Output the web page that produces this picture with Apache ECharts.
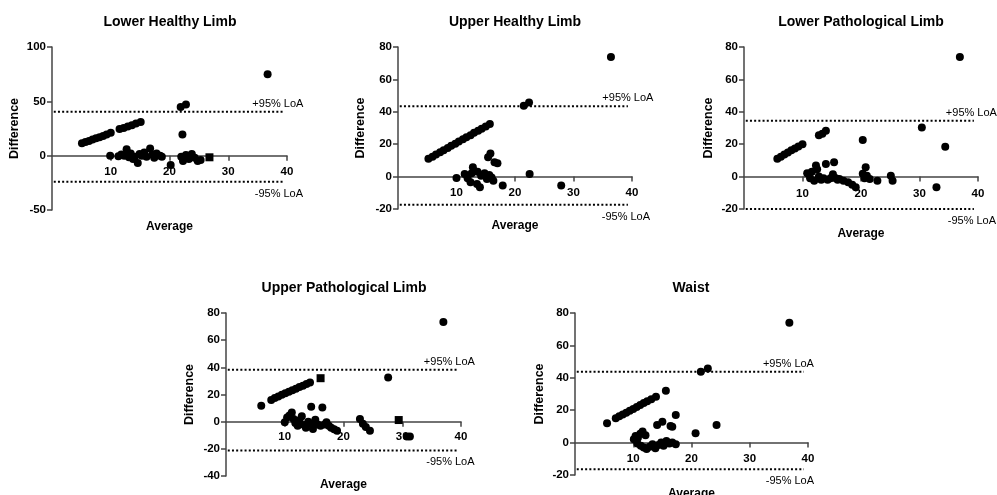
<!DOCTYPE html>
<html><head><meta charset="utf-8">
<script src="https://cdn.jsdelivr.net/npm/echarts/dist/echarts.min.js"></script>
<style>html,body{margin:0;padding:0;background:#fff}#c{width:997px;height:495px}</style>
</head><body><div id="c"></div>
<script>
// ---------- data ----------
const panelTitles = ['Lower Healthy Limb', 'Upper Healthy Limb', 'Lower Pathological Limb', 'Upper Pathological Limb', 'Waist'];
const xRange = [0, 40, 10];
const yRanges = [[-50, 100, 50], [-20, 80, 20], [-20, 80, 20], [-40, 80, 20], [-20, 80, 20]];
const loaUpper = [40.5, 43.5, 34.5, 38.3, 43.7];
const loaLower = [-24, -17.4, -20, -21.2, -16.4];
const loaUpperText = '+95% LoA';
const loaLowerText = '-95% LoA';

const lowerHealthy = [
  [5.1,11.4],[5.7,12.5],[6.3,13.6],[6.9,14.8],[7.5,16],[8.1,17],[8.7,18.2],[9.3,19.5],[10,21],
  [11.5,24.5],[12.2,25.5],[12.9,26.8],[13.6,28],[14.3,29.5],[15.1,31],
  [9.9,0],[11.3,-0.5],[11.8,1],[12.3,0],[12.7,6],[13.1,-1.5],[13.4,2],[13.8,-3],[14.1,-1],[14.6,-6.7],[14.9,1.5],
  [15.3,0],[15.7,3],[16.1,-1],[16.7,6.6],[17.1,1],[17.4,-2],[17.8,2],[18.4,0],[18.7,-1],
  [20.2,-8.6],[22.2,19.4],[21.9,44.8],[22.8,47],
  [22,-1],[22.3,-5],[22.8,0.5],[23.3,-3],[23.8,1.5],[24.3,-2],[24.8,-5],[25.3,-4],
  [36.7,75]
];
const lowerHealthySquares = [[26.8,-1.5]];

const upperHealthy = [
  [5.2,11],[5.9,12.3],[6.5,13.6],[7.2,15],[7.8,16.3],[8.5,17.6],[9.1,19],[9.8,20.3],[10.4,21.6],
  [11.1,23],[11.7,24.3],[12.4,25.6],[13,27],[13.7,28.3],[14.3,29.6],[15,31],[15.7,32.4],
  [10,-0.8],[11.4,1.6],[11.9,-1],[12.4,-3.5],[12.8,5.7],[12.6,2],[13.5,-4.5],[13.6,3],[14,-6.6],[14.2,0.5],
  [14.8,2],[15.2,-1.5],[15.4,11.9],[15.8,14.3],[15.6,1],[16,-0.5],[16.5,8.8],[16.3,-2.5],[17,8.2],
  [17.9,-5.5],[22.5,1.6],[27.9,-5.5],[21.5,43.7],[22.4,45.7],[36.4,73.8]
];
const upperHealthySquares = [];

const lowerPath = [
  [5.7,11],[6.3,12.3],[6.9,13.6],[7.5,14.9],[8.1,16.2],[8.7,17.4],[9.3,18.6],[10,20],
  [12.8,25.5],[13.4,26.5],[14,28.3],
  [10.8,2],[11.1,1.6],[11.3,-1],[11.6,3],[12,-2.5],[12.3,6.8],[12.5,4.5],[12.8,0],[13.2,-2],[13.6,-1],
  [14,7.8],[14.3,-2],[14.8,-1],[15.2,1.5],[15.4,8.8],[15.7,-1],[16,-2],[16.3,-1.5],[17,-2.5],[17.8,-3.5],
  [18.5,-5],[19.1,-6.5],[20.3,22.6],[20.8,5.7],[20.3,1.8],[20.6,-1],[21,0.5],[21.5,-1.5],[22.8,-2.5],
  [25.1,0.6],[25.4,-2.5],[30.4,30.3],[32.9,-6.6],[34.4,18.5],[36.9,73.8]
];
const lowerPathSquares = [];

const upperPath = [
  [6,11.7],[7.7,16],[8.3,17.5],[8.9,18.5],[9.5,19.8],[10.1,21],[10.7,22],[11.3,23.2],[11.9,24.3],
  [12.5,25.5],[13.1,26.5],[13.7,27.7],[14.3,28.8],
  [10,-0.5],[10.4,3],[10.8,4.5],[11.2,6.8],[11.5,2],[11.8,-1],[12.2,-3],[12.5,1],[12.9,4],[13.3,-2.5],
  [13.6,-4.5],[14,0],[14.5,11],[14.4,-1.5],[14.8,-5.4],[15.2,1.5],[15.6,-2],[16.1,-3],[16.4,10.5],[16.8,-2],
  [17.1,-0.5],[17.5,-3],[17.9,-4.5],[18.4,-5.5],[18.9,-6.6],[22.8,2],[23.3,-1.5],[23.8,-4],[24.5,-6.6],
  [27.6,32.5],[31.3,-11],[30.8,-11],[37,73.3]
];
const upperPathSquares = [[16.1,32],[29.4,1.2]];

const waist = [
  [5.5,11.9],[7,15],[7.6,16.2],[8.2,17.3],[8.8,18.5],[9.4,19.7],[10,20.8],[10.6,22],[11.2,23.2],
  [11.8,24.4],[12.4,25.5],[13.1,26.7],[13.9,28.3],[15.6,32],
  [10.1,2],[10.4,4],[10.8,3],[11.2,5.5],[11.6,6.8],[12.1,4.5],[10.7,-0.5],[11.3,-2],[11.8,-3],[12.3,-4],
  [12.8,-2.5],[13.3,-1],[13.8,-3.5],[14.3,-1.5],[14.8,0],[15.2,-2],[15.7,1],[16.2,-0.5],[16.7,0],[17.3,-1],
  [14.1,10.9],[15,12.9],[16.4,10.3],[16.7,9.8],[17.3,17],[20.7,5.8],[24.3,10.9],[21.6,43.7],[22.8,45.8],
  [36.8,74]
];
const waistSquares = [];

// ---------- layout ----------
const panels = [lowerHealthy, upperHealthy, lowerPath, upperPath, waist];
const panelSquares = [lowerHealthySquares, upperHealthySquares, lowerPathSquares, upperPathSquares, waistSquares];
const grids = [
  {left: 52, top: 47, width: 235, height: 163},
  {left: 398, top: 47, width: 234, height: 162},
  {left: 744, top: 47, width: 234, height: 162},
  {left: 226, top: 313, width: 235, height: 163},
  {left: 575, top: 313, width: 233, height: 162}
];
const titlePos = [[170, 22], [515, 22], [861, 22], [344, 288], [691, 288]];
const xLabelMargin = [-44, -22.5, -21.5, -45, -22];
const xNameGap = [11, 11, 18.5, 3, 13];
const yNameGap = [31, 31, 28.5, 30, 29];
const upLabelDx = [-5, 0, -2.5, -7.5, -15.5];
const loLabelDx = [-4, -2, -2, -6.5, -14];
const loaStart = 0.3, loaEnd = 39.3;

const FONT = '"Liberation Sans", Arial, sans-serif';
const axisColor = '#444';

const xAxes = [], yAxes = [], series = [], graphics = [];
panels.forEach((pts, i) => {
  xAxes.push({
    gridIndex: i, type: 'value', min: xRange[0], max: xRange[1], interval: xRange[2],
    axisLine: {onZero: true, lineStyle: {color: axisColor, width: 1.5}},
    axisTick: {show: true, length: 5, lineStyle: {color: axisColor, width: 1.5}},
    axisLabel: {showMinLabel: false, margin: xLabelMargin[i], color: '#000', fontWeight: 'bold', fontSize: 11.5, fontFamily: FONT},
    splitLine: {show: false},
    name: 'Average', nameLocation: 'middle', nameGap: xNameGap[i], nameMoveOverlap: false,
    nameTextStyle: {color: '#000', fontWeight: 'bold', fontSize: 12, fontFamily: FONT}
  });
  const yr = yRanges[i];
  yAxes.push({
    gridIndex: i, type: 'value', min: yr[0], max: yr[1], interval: yr[2],
    axisLine: {show: true, onZero: false, lineStyle: {color: axisColor, width: 1.5}},
    axisTick: {show: true, length: 5, lineStyle: {color: axisColor, width: 1.5}},
    axisLabel: {margin: 6, color: '#000', fontWeight: 'bold', fontSize: 11.5, fontFamily: FONT},
    splitLine: {show: false},
    name: 'Difference', nameLocation: 'middle', nameGap: yNameGap[i], nameRotate: 90,
    nameTextStyle: {color: '#000', fontWeight: 'bold', fontSize: 12.5, fontFamily: FONT}
  });
  const loaLine = (v, txt, pos, dx, dist) => ({
    type: 'line', xAxisIndex: i, yAxisIndex: i, silent: true, animation: false,
    symbol: 'circle', symbolSize: 1, itemStyle: {color: 'rgba(0,0,0,0)'},
    lineStyle: {color: '#000', width: 2, type: [2, 2.2]},
    data: [[loaStart, v], {value: [loaEnd, v], label: {
      show: true, position: pos, distance: dist, offset: [dx, 0], formatter: txt,
      color: '#000', fontSize: 11, fontFamily: FONT}}],
    z: 1
  });
  series.push(loaLine(loaUpper[i], loaUpperText, 'top', upLabelDx[i], 2));
  series.push(loaLine(loaLower[i], loaLowerText, 'bottom', loLabelDx[i], 6));
  series.push({
    type: 'scatter', xAxisIndex: i, yAxisIndex: i, data: pts, symbol: 'circle', symbolSize: 8,
    itemStyle: {color: '#000', opacity: 1}, silent: true, animation: false, z: 3
  });
  series.push({
    type: 'scatter', xAxisIndex: i, yAxisIndex: i, data: panelSquares[i], symbol: 'rect', symbolSize: 8,
    itemStyle: {color: '#000', opacity: 1}, silent: true, animation: false, z: 3
  });
  graphics.push({
    type: 'text', x: titlePos[i][0], y: titlePos[i][1],
    style: {text: panelTitles[i], textAlign: 'center', textVerticalAlign: 'middle',
      font: 'bold 14px ' + FONT, fill: '#000'}
  });
});

const chart = echarts.init(document.getElementById('c'), null, {renderer: 'canvas'});
chart.setOption({
  animation: false,
  backgroundColor: '#fff',
  grid: grids.map(g => Object.assign({containLabel: false, outerBoundsMode: 'none'}, g)),
  xAxis: xAxes,
  yAxis: yAxes,
  series: series,
  graphic: graphics
});
</script></body></html>
